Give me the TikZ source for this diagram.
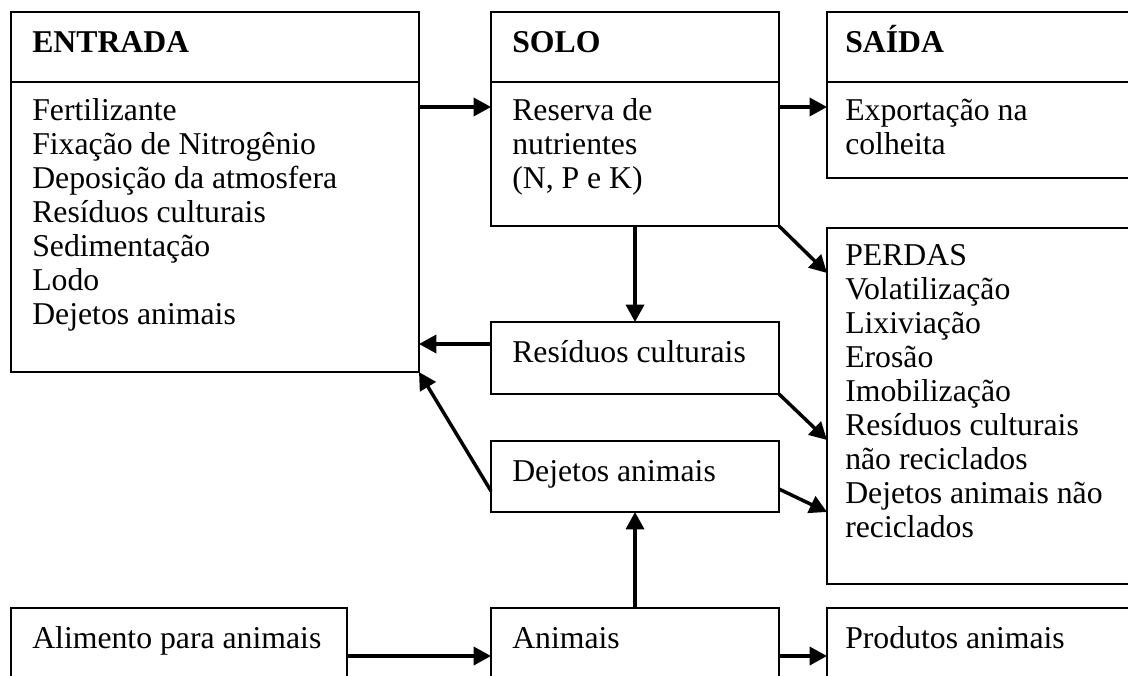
\documentclass[tikz,border=0pt]{standalone}
\usepackage{fontspec}
\setmainfont{Liberation Serif}
\usetikzlibrary{arrows.meta}
\tikzstyle{caixa}=[draw, line width=1.1pt, rectangle, inner sep=0, outer sep=0, anchor=north west]
\tikzstyle{texto}=[anchor=north west, inner sep=0, align=left, xshift=15.75pt, yshift=-12.3pt, font=\fontsize{23.8}{25.5}\selectfont, execute at begin node=\strut]
\tikzstyle{seta}=[line width=2.6pt, -{Triangle[length=13pt, width=13.5pt]}]

\begin{document}
\begin{tikzpicture}[x=0.75pt, y=-0.75pt]
  \clip (0,0) rectangle (1128,675);
  \fill[white] (0,0) rectangle (1128,675);
  % caixas
  \node[caixa, minimum width=306pt, minimum height=52.5pt] (entradaTopo) at (11,12) {};
  \node[caixa, minimum width=306pt, minimum height=217.5pt] (entrada) at (11,82) {};
  \node[caixa, minimum width=216pt, minimum height=52.5pt] (soloTopo) at (491,12) {};
  \node[caixa, minimum width=216pt, minimum height=108pt] (solo) at (491,82) {};
  \node[caixa, minimum width=240pt, minimum height=52.5pt] (saidaTopo) at (827,12) {};
  \node[caixa, minimum width=240pt, minimum height=72pt] (saida) at (827,82) {};
  \node[caixa, minimum width=240pt, minimum height=267pt] (perdas) at (827,228) {};
  \node[caixa, minimum width=216pt, minimum height=54pt] (residuos) at (491,322) {};
  \node[caixa, minimum width=216pt, minimum height=53.25pt] (dejetos) at (491,441) {};
  \node[caixa, minimum width=252pt, minimum height=62pt] (alimento) at (11,608) {};
  \node[caixa, minimum width=216pt, minimum height=62pt] (animais) at (491,608) {};
  \node[caixa, minimum width=240pt, minimum height=62pt] (produtos) at (827,608) {};
  % textos
  \node[texto] at (entradaTopo.north west) {\textbf{ENTRADA}};
  \node[texto] at (entrada.north west) {Fertilizante\\Fixação de Nitrogênio\\Deposição da atmosfera\\Resíduos culturais\\Sedimentação\\Lodo\\Dejetos animais};
  \node[texto] at (soloTopo.north west) {\textbf{SOLO}};
  \node[texto] at (solo.north west) {Reserva de\\nutrientes\\(N, P e K)};
  \node[texto, xshift=-2.25pt] at (saidaTopo.north west) {\textbf{SA\smash{Í}DA}};
  \node[texto, xshift=-2.25pt] at (saida.north west) {Exportação na\\colheita};
  \node[texto, xshift=-2.25pt] at (perdas.north west) {PERDAS\\Volatilização\\Lixiviação\\Erosão\\Imobilização\\Resíduos culturais\\não reciclados\\Dejetos animais não\\reciclados};
  \node[texto] at (residuos.north west) {Resíduos culturais};
  \node[texto] at (dejetos.north west) {Dejetos animais};
  \node[texto] at (alimento.north west) {Alimento para animais};
  \node[texto] at (animais.north west) {Animais};
  \node[texto, xshift=-2.25pt] at (produtos.north west) {Produtos animais};
  % setas
  \draw[seta] ([yshift=-18.75pt]entrada.north east) -- ([yshift=-18.75pt]solo.north west);
  \draw[seta] ([yshift=-18.75pt]solo.north east) -- ([yshift=-18.75pt]saida.north west);
  \draw[seta] (solo.south east) -- ([yshift=-33.75pt]perdas.north west);
  \draw[seta] (solo.south) -- (residuos.north);
  \draw[seta] ([yshift=-16.5pt]residuos.north west) -- ([yshift=-16.5pt]entrada.east |- residuos.north);
  \draw[seta] (residuos.south east) -- ([yshift=-159pt]perdas.north west);
  \draw[seta] ([yshift=15.75pt]dejetos.south west) -- (entrada.south east);
  \draw[seta] ([yshift=-36pt]dejetos.north east) -- ([yshift=-213pt]perdas.north west);
  \draw[seta] (animais.north) -- (dejetos.south);
  \draw[seta] ([yshift=-36pt]alimento.north east) -- ([yshift=-36pt]animais.north west);
  \draw[seta] ([yshift=-36pt]animais.north east) -- ([yshift=-36pt]produtos.north west);
\end{tikzpicture}
\end{document}
